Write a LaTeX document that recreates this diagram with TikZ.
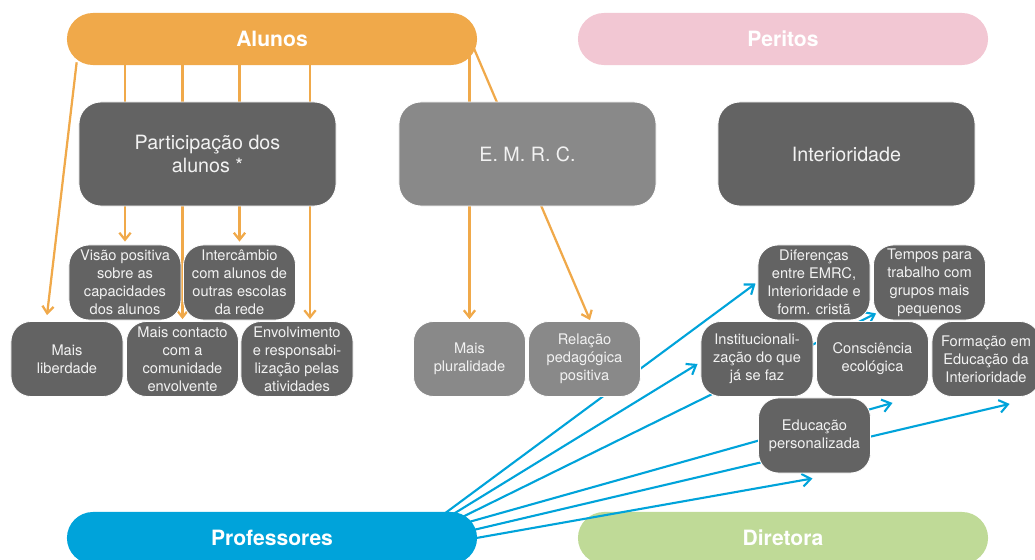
\documentclass[tikz,border=0pt]{standalone}
\usepackage{fontspec}
\setmainfont{TeX Gyre Heros}
\usetikzlibrary{arrows.meta,calc}

\definecolor{alunoorange}{HTML}{F0A94A}
\definecolor{peritopink}{HTML}{F2C7D3}
\definecolor{profblue}{HTML}{00A3DA}
\definecolor{diretoragreen}{HTML}{BFDA97}
\definecolor{darkbox}{HTML}{636363}
\definecolor{midbox}{HTML}{898989}
\definecolor{boxtext}{HTML}{F2F2F2}

\pgfdeclarelayer{bottom}
\pgfdeclarelayer{lines}
\pgfsetlayers{bottom,lines,main}

\begin{document}
\begin{tikzpicture}[
  x=0.025cm, y=-0.025cm,
  pill/.style={rectangle, rounded corners=0.65cm, minimum width=10.25cm,
    minimum height=1.3cm, inner sep=0pt, text=white,
    font=\fontsize{15}{18}\selectfont\bfseries},
  bigbox/.style={rectangle, rounded corners=0.55cm, minimum width=6.425cm,
    minimum height=2.6cm, inner sep=0pt, align=center, text=boxtext,
    font=\fontsize{14}{16.6}\selectfont, draw=white, line width=0.6pt},
  smallbox/.style={rectangle, rounded corners=0.5cm, minimum width=2.8cm,
    minimum height=1.875cm, inner sep=0pt, align=center, text=boxtext,
    fill=darkbox, font=\fontsize{10.4}{12.8}\selectfont, draw=white,
    line width=0.6pt},
  oline/.style={draw=alunoorange, line width=1.6pt,
    -{Straight Barb[length=5pt,width=8pt]}},
  bline/.style={draw=profblue, line width=1.5pt,
    -{Straight Barb[length=6pt,width=9pt]}}
]
\useasboundingbox (0,0) rectangle (1035,560);

% actor bands
\node[pill, fill=alunoorange] (alunos) at (272,39) {Alunos};
\node[pill, fill=peritopink] (peritos) at (783,39) {Peritos};
\node[pill, fill=profblue] (prof) at (272,538) {Professores};
\begin{pgfonlayer}{bottom}
\node[pill, fill=diretoragreen] (diretora) at (783,538) {Diretora};
\end{pgfonlayer}

% themes
\node[bigbox, fill=darkbox] (partic) at (207.5,154) {Participação dos\\alunos *};
\node[bigbox, fill=midbox] (emrc) at (527.5,154) {E. M. R. C.};
\node[bigbox, fill=darkbox] (inter) at (846.5,154) {Interioridade};

% outcomes for students
\node[smallbox] (visao) at (125,282.5) {Visão positiva\\sobre as\\capacidades\\dos alunos};
\node[smallbox] (interc) at (239.5,282.5) {Intercâmbio\\com alunos de\\outras escolas\\da rede};
\node[smallbox] (liberdade) at (67,359) {Mais\\liberdade};
\node[smallbox] (contacto) at (182.5,359) {Mais contacto\\com a\\comunidade\\envolvente};
\node[smallbox] (envolv) at (297,359) {Envolvimento\\e responsabi-\\lização pelas\\atividades};

% outcomes for E.M.R.C.
\node[smallbox, fill=midbox] (plural) at (469.5,359) {Mais\\pluralidade};
\node[smallbox, fill=midbox] (relacao) at (584.5,359) {Relação\\pedagógica\\positiva};

% outcomes for Interioridade
\node[smallbox] (difer) at (814,282.5) {Diferenças\\entre EMRC,\\Interioridade e\\form. cristã};
\node[smallbox] (tempos) at (929.5,282.5) {Tempos para\\trabalho com\\grupos mais\\pequenos};
\node[smallbox] (instit) at (757,359) {Institucionali-\\zação do que\\já se faz};
\node[smallbox] (consc) at (872.5,359) {Consciência\\ecológica};
\node[smallbox, minimum width=2.7cm] (formacao) at (986,359) {Formação em\\Educação da\\Interioridade};
\node[smallbox] (educ) at (814.5,435.5) {Educação\\personalizada};

\begin{pgfonlayer}{lines}
% links from Alunos
\draw[oline] ($(alunos.south west)+(10,-3)$) -- ($(liberdade.north)+(-20,-6)$);
\draw[oline] (visao.north |- alunos.center) -- ($(visao.north)+(0,-3)$);
\draw[oline] (contacto.north |- alunos.center) -- ($(contacto.north)+(0,-2)$);
\draw[oline] (interc.north |- alunos.center) -- ($(interc.north)+(0,-3)$);
\draw[oline] ($(alunos.south)+(38,-10)$) -- ($(envolv.north)+(13,-2)$);
\draw[oline] (plural.north |- alunos.center) -- ($(plural.north)+(0,-2)$);
\draw[oline] ($(alunos.east)+(-4,8)$) -- ($(relacao.north)+(5.5,-1)$);

% links from Professores
\draw[bline] ($(prof.east)+(-32,-25)$) -- ($(difer.west)+(-2,1)$);
\draw[bline] ($(prof.east)+(-24,-24)$) -- ($(instit.west)+(-3,5)$);
\draw[bline] ($(prof.east)+(-17,-20)$) -- ($(tempos.south west)+(3,-7)$);
\draw[bline] ($(prof.east)+(-12,-15)$) -- ($(consc.south)+(20,6)$);
\draw[bline] ($(prof.east)+(-4,-8)$) -- ($(formacao.south west)+(78,7)$);
\draw[bline] ($(prof.east)+(-1,0)$) -- ($(educ.south)+(-2,5)$);
\end{pgfonlayer}
\end{tikzpicture}
\end{document}
